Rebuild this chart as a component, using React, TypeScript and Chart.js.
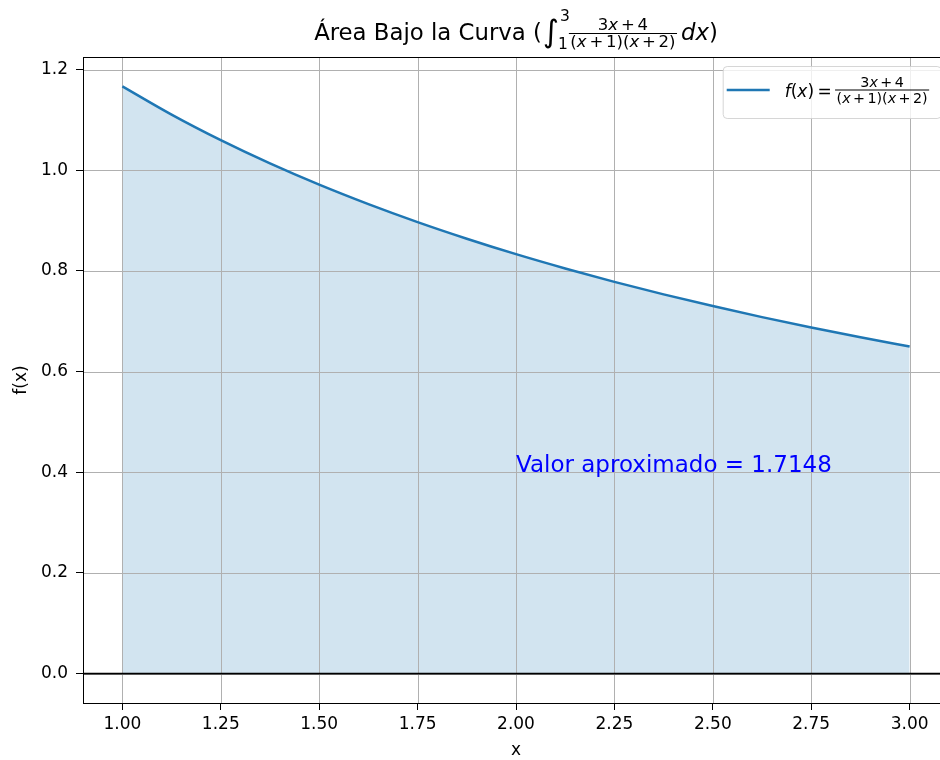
import React, { useEffect, useRef } from "react";
import { Chart, registerables } from "chart.js";

Chart.register(...registerables);

const xValues = [1, 1.125, 1.25, 1.375, 1.5, 1.625, 1.75, 1.875, 2, 2.125, 2.25, 2.375, 2.5, 2.625, 2.75, 2.875, 3];
const yValues = [1.1667, 1.1106, 1.0598, 1.0136, 0.9714, 0.9327, 0.897, 0.864, 0.8333, 0.8049, 0.7783, 0.7534, 0.7302, 0.7083, 0.6877, 0.6683, 0.65];
const xTicks = [1, 1.25, 1.5, 1.75, 2, 2.25, 2.5, 2.75, 3];
const yTicks = [0, 0.2, 0.4, 0.6, 0.8, 1.0, 1.2];
const xRange = [0.9, 3.1];
const yRange = [-0.0583, 1.225];
const titleText = "Área Bajo la Curva (";
const annotationText = "Valor aproximado = 1.7148";
const annotationPos = [2, 0.4];
const xLabel = "x";
const yLabel = "f(x)";

const FAM = '"DejaVu Sans"';
type Run = string | { t: string; it?: boolean } | number;

function fnt(size: number, it?: boolean) {
  return `${it ? "oblique " : ""}${size}px ${FAM}`;
}
function runsWidth(ctx: CanvasRenderingContext2D, runs: Run[], size: number) {
  let w = 0;
  for (const r of runs) {
    if (typeof r === "number") { w += r * size; continue; }
    const t = typeof r === "string" ? r : r.t;
    const it = typeof r === "string" ? false : !!r.it;
    ctx.font = fnt(size, it);
    w += ctx.measureText(t).width;
  }
  return w;
}
function drawRuns(ctx: CanvasRenderingContext2D, runs: Run[], x: number, y: number, size: number) {
  for (const r of runs) {
    if (typeof r === "number") { x += r * size; continue; }
    const t = typeof r === "string" ? r : r.t;
    const it = typeof r === "string" ? false : !!r.it;
    ctx.font = fnt(size, it);
    ctx.textAlign = "left";
    ctx.textBaseline = "alphabetic";
    ctx.fillText(t, x, y);
    x += ctx.measureText(t).width;
  }
  return x;
}
const G = 0.17;
const numRuns: Run[] = ["3", { t: "x", it: true }, G, "+", G, "4"];
const denRuns: Run[] = ["(", { t: "x", it: true }, G, "+", G, "1)(", { t: "x", it: true }, G, "+", G, "2)"];

function fracWidth(ctx: CanvasRenderingContext2D, size: number) {
  return Math.max(runsWidth(ctx, numRuns, size), runsWidth(ctx, denRuns, size)) + 3;
}
function drawFraction(ctx: CanvasRenderingContext2D, x: number, barY: number, size: number, numBase: number, denBase: number) {
  const wn = runsWidth(ctx, numRuns, size);
  const wd = runsWidth(ctx, denRuns, size);
  const w = Math.max(wn, wd) + 3;
  ctx.fillRect(x, barY - 0.5, w, 1);
  drawRuns(ctx, numRuns, x + (w - wn) / 2, numBase, size);
  drawRuns(ctx, denRuns, x + (w - wd) / 2, denBase, size);
  return x + w;
}

const overlay = {
  id: "overlay",
  beforeDatasetsDraw(chart: any) {
    const { ctx, chartArea: ca, scales } = chart;
    ctx.save();
    ctx.strokeStyle = "#b0b0b0";
    ctx.lineWidth = 1;
    ctx.beginPath();
    for (const v of xTicks) {
      const px = Math.round(scales.x.getPixelForValue(v)) + 0.5;
      ctx.moveTo(px, ca.top);
      ctx.lineTo(px, ca.bottom);
    }
    for (const v of yTicks) {
      const py = Math.round(scales.y.getPixelForValue(v)) + 0.5;
      ctx.moveTo(ca.left, py);
      ctx.lineTo(ca.right, py);
    }
    ctx.stroke();
    ctx.restore();
  },
  afterDatasetsDraw(chart: any) {
    const { ctx, chartArea: ca, scales } = chart;
    ctx.save();
    ctx.strokeStyle = "#000";
    ctx.lineWidth = 1.6;
    const y0 = scales.y.getPixelForValue(0);
    ctx.beginPath();
    ctx.moveTo(ca.left, y0);
    ctx.lineTo(ca.right, y0);
    ctx.stroke();
    ctx.fillStyle = "#0000ff";
    ctx.font = fnt(23);
    ctx.textAlign = "left";
    ctx.textBaseline = "alphabetic";
    ctx.fillText(annotationText, scales.x.getPixelForValue(annotationPos[0]), scales.y.getPixelForValue(annotationPos[1]));
    ctx.restore();
  },
  afterDraw(chart: any) {
    const { ctx, chartArea: ca } = chart;
    ctx.save();
    ctx.strokeStyle = "#000";
    ctx.lineWidth = 1;
    ctx.strokeRect(Math.round(ca.left) + 0.5, Math.round(ca.top) + 0.5, Math.round(ca.right - ca.left), Math.round(ca.bottom - ca.top));

    // Title
    ctx.fillStyle = "#000";
    const TS = 22.8;
    const FS = 16.5;
    const cx = (ca.left + ca.right) / 2;
    ctx.font = fnt(TS);
    const w1 = ctx.measureText(titleText).width;
    ctx.font = fnt(31);
    const wI = ctx.measureText("∫").width;
    const wFrac = fracWidth(ctx, FS);
    const tailRuns: Run[] = [{ t: "dx", it: true }, ")"];
    const wTail = runsWidth(ctx, tailRuns, TS);
    ctx.font = fnt(15.5);
    const wLim = ctx.measureText("3").width;
    const total = w1 + 1 + wI + wLim + wFrac + 4 + wTail;
    let x = cx - total / 2;
    const base = 40;
    ctx.font = fnt(TS);
    ctx.fillText(titleText, x, base);
    x += w1 + 1;
    ctx.font = fnt(31);
    ctx.fillText("∫", x, 42);
    x += wI;
    ctx.font = fnt(15.5);
    ctx.fillText("3", x + 1, 21);
    ctx.fillText("1", x - 1, 49);
    x += wLim;
    x = drawFraction(ctx, x, 33.5, FS, 30, 47);
    x += 4;
    drawRuns(ctx, tailRuns, x, base, TS);

    // Legend
    const lw = 218, lh = 52;
    const lx = ca.right - 8.3 - lw;
    const ly = ca.top + 9;
    ctx.beginPath();
    ctx.roundRect(lx + 0.5, ly + 0.5, lw, lh, 4);
    ctx.fillStyle = "rgba(255,255,255,0.8)";
    ctx.fill();
    ctx.strokeStyle = "rgba(204,204,204,0.8)";
    ctx.lineWidth = 1;
    ctx.stroke();
    ctx.strokeStyle = "#1f77b4";
    ctx.lineWidth = 2.5;
    ctx.beginPath();
    ctx.moveTo(lx + 4, ly + 24);
    ctx.lineTo(lx + 47, ly + 24);
    ctx.stroke();
    ctx.fillStyle = "#000";
    const LS = 17;
    let lxx = lx + 62;
    lxx = drawRuns(ctx, [{ t: "f", it: true }, "(", { t: "x", it: true }, ")", 0.2, "=", 0.2], lxx, ly + 31, LS);
    drawFraction(ctx, lxx, ly + 24, 14.3, ly + 21, ly + 37);

    // Axis labels
    ctx.font = fnt(17);
    ctx.textAlign = "center";
    ctx.textBaseline = "alphabetic";
    ctx.fillText(xLabel, cx, 755);
    ctx.translate(26, (ca.top + ca.bottom) / 2);
    ctx.rotate(-Math.PI / 2);
    ctx.fillText(yLabel, 0, 0);
    ctx.restore();
  },
};

export default function App() {
  const ref = useRef<HTMLCanvasElement>(null);
  useEffect(() => {
    document.body.style.margin = "0";
    document.body.style.overflow = "hidden";
    const chart = new Chart(ref.current!, {
      type: "line",
      data: {
        datasets: [
          {
            data: xValues.map((x, i) => ({ x, y: yValues[i] })),
            borderColor: "#1f77b4",
            borderWidth: 2.5,
            backgroundColor: "rgba(31,119,180,0.2)",
            fill: "origin",
            pointRadius: 0,
            cubicInterpolationMode: "monotone",
          },
        ],
      },
      options: {
        responsive: false,
        animation: false,
        layout: { padding: { top: 57, right: 11, left: 0, bottom: 0 } },
        plugins: {
          legend: { display: false },
          title: { display: false },
          tooltip: { enabled: false },
          filler: { drawTime: "beforeDatasetsDraw" },
        } as any,
        scales: {
          x: {
            type: "linear",
            min: xRange[0],
            max: xRange[1],
            afterBuildTicks: (s: any) => { s.ticks = xTicks.map((v) => ({ value: v })); },
            afterFit: (s: any) => { s.height = 57; },
            ticks: {
              callback: (v: any) => Number(v).toFixed(2),
              font: { family: "DejaVu Sans", size: 17 },
              color: "#000",
              padding: 4,
              maxRotation: 0,
              autoSkip: false,
            },
            grid: { drawOnChartArea: false, drawTicks: true, tickLength: 7, tickColor: "#000", lineWidth: 1 },
            border: { display: false },
          },
          y: {
            type: "linear",
            min: yRange[0],
            max: yRange[1],
            afterBuildTicks: (s: any) => { s.ticks = yTicks.map((v) => ({ value: v })); },
            afterFit: (s: any) => { s.width = 83; },
            ticks: {
              callback: (v: any) => Number(v).toFixed(1),
              font: { family: "DejaVu Sans", size: 17 },
              color: "#000",
              padding: 8,
              autoSkip: false,
            },
            grid: { drawOnChartArea: false, drawTicks: true, tickLength: 7, tickColor: "#000", lineWidth: 1 },
            border: { display: false },
          },
        },
      } as any,
      plugins: [overlay],
    });
    return () => chart.destroy();
  }, []);
  return (
    <div style={{ width: 960, height: 760 }}>
      <canvas ref={ref} width={960} height={760} style={{ display: "block" }} />
    </div>
  );
}
